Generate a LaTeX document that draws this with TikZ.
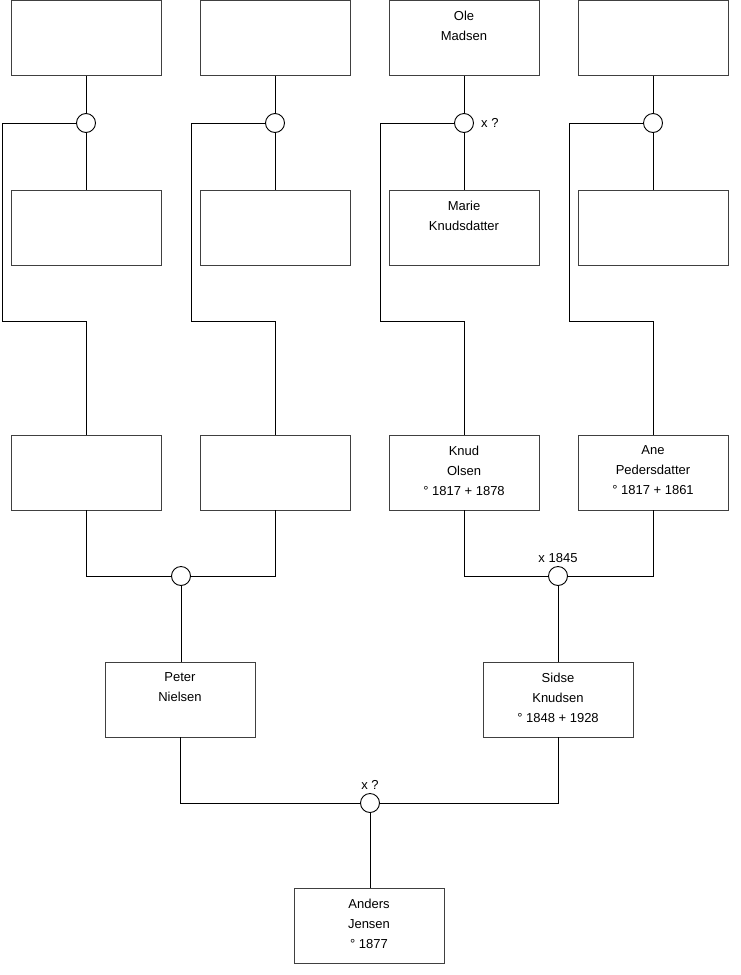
\documentclass[tikz,border=0pt]{standalone}
\usepackage{fontspec}
\setmainfont{Liberation Sans}
\begin{document}
\begin{tikzpicture}[x=1pt,y=-1pt,
  person/.style={draw=black!75,line width=0.9pt,fill=white,rectangle,minimum width=150pt,minimum height=75pt,inner sep=0pt},
  ptext/.style={anchor=north,align=center,inner sep=0pt,font=\fontsize{13}{20}\selectfont},
  union/.style={draw=black,line width=0.9pt,fill=white,circle,minimum size=19pt,inner sep=0pt},
  ulabel/.style={inner sep=0pt,font=\fontsize{13}{14}\selectfont},
  conn/.style={draw=black,line width=0.9pt}]
\useasboundingbox (0,0) rectangle (740,975);
% generation 1
\node[person] (p1) at (86,38) {};
\node[person] (p2) at (275,38) {};
\node[person] (p3) at (464,38) {};
\node[person] (p4) at (653,38) {};
\node[ptext] (t3) at ([yshift=-11pt]p3.north) {Ole\\Madsen};
% unions
\node[union] (c1) at (86,123) {};
\node[union] (c2) at (275,123) {};
\node[union] (c3) at (464,123) {};
\node[union] (c4) at (653,123) {};
\node[ulabel,anchor=west] (l3) at ([xshift=7pt]c3.east) {x ?};
% generation 2 (wives)
\node[person] (m1) at (86,227.5) {};
\node[person] (m2) at (275,227.5) {};
\node[person] (m3) at (464,227.5) {};
\node[person] (m4) at (653,227.5) {};
\node[ptext] (tm3) at ([yshift=-11pt]m3.north) {Marie\\Knudsdatter};
% generation 3
\node[person] (g1) at (86,472.5) {};
\node[person] (g2) at (275,472.5) {};
\node[person] (g3) at (464,472.5) {};
\node[person] (g4) at (653,472.5) {};
\node[ptext] (tg3) at ([yshift=-11pt]g3.north) {Knud\\Olsen\\° 1817 + 1878};
\node[ptext] (tg4) at ([yshift=-11pt]g4.north) {Ane\\Pedersdatter\\° 1817 + 1861};
% corner coordinates
\coordinate (k1) at (2,321);
\coordinate (k2) at (191,321);
\coordinate (k3) at (380,321);
\coordinate (k4) at (569,321);
% connectors gen1
\foreach \i in {1,2,3,4}{
  \draw[conn] (p\i.south) -- (c\i.north);
  \draw[conn] (c\i.south) -- (m\i.north);
  \draw[conn] (c\i.west) -| (k\i) -| (g\i.north);
}
% unions gen3
\node[union] (c5) at (181,576) {};
\node[union] (c6) at (558,576) {};
\node[ulabel,anchor=south] (l6) at ([yshift=3pt]c6.north) {x 1845};
\draw[conn] (g1.south) |- (c5.west);
\draw[conn] (g2.south) |- (c5.east);
\draw[conn] (g3.south) |- (c6.west);
\draw[conn] (g4.south) |- (c6.east);
% generation 4
\node[person] (peter) at (180,699.5) {};
\node[person] (sidse) at (558,699.5) {};
\node[ptext] (tpeter) at ([yshift=-11pt]peter.north) {Peter\\Nielsen};
\node[ptext] (tsidse) at ([yshift=-11pt]sidse.north) {Sidse\\Knudsen\\° 1848 + 1928};
\draw[conn] (c5.south) -- (c5.south |- peter.north);
\draw[conn] (c6.south) -- (sidse.north);
% union gen4
\node[union] (c7) at (370,803) {};
\node[ulabel,anchor=south] (l7) at ([yshift=3pt]c7.north) {x ?};
\draw[conn] (peter.south) |- (c7.west);
\draw[conn] (sidse.south) |- (c7.east);
% generation 5
\node[person] (anders) at (369,925.5) {};
\node[ptext] (tanders) at ([yshift=-11pt]anders.north) {Anders\\Jensen\\° 1877};
\draw[conn] (c7.south) -- (c7.south |- anders.north);
\end{tikzpicture}
\end{document}
